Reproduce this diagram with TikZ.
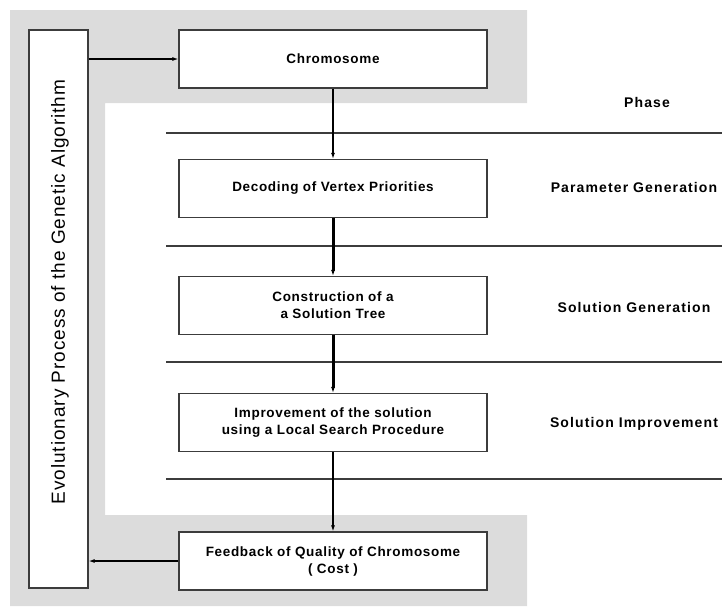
\documentclass[tikz,border=0pt]{standalone}
\usepackage{fontspec}
\setmainfont{Liberation Sans}
\newfontfamily\boxfont[LetterSpace=5]{Liberation Sans}
\newfontfamily\phasefont[LetterSpace=8]{Liberation Sans}
\newfontfamily\sidefont[LetterSpace=5]{Liberation Sans}
\usetikzlibrary{arrows.meta}

\definecolor{bandgray}{RGB}{220,220,220}
\definecolor{edgegray}{RGB}{60,60,60}

\tikzset{
    stepbox/.style={draw=edgegray,line width=1.2pt,fill=white,minimum width=308pt,minimum height=58pt,align=center,font=\boxfont\fontsize{13.5}{17}\selectfont\bfseries},
    phaselbl/.style={font=\phasefont\fontsize{14}{16}\selectfont\bfseries},
    flow/.style={-{Latex[length=6pt,width=4pt]},line width=#1},
    flow/.default=1.4pt
}

\begin{document}
\begin{tikzpicture}[x=1pt,y=-1pt]
        \useasboundingbox (0,0) rectangle (722,606);
        % gray frame
        \fill[bandgray] (10,10) -- (527,10) -- (527,103) -- (105,103) -- (105,515) -- (527,515) -- (527,606) -- (10,606) -- cycle;
        % phase rows
        \foreach \y in {133,246,362,479}
            \draw[edgegray,line width=1.2pt] (166,\y) -- (722,\y);
        \node[draw=edgegray,line width=1.2pt,fill=white,minimum width=59pt,minimum height=558pt] (evol) at (58.5,309) {};
        \node[rotate=90,font=\sidefont\fontsize{19}{22}\selectfont] (evoltxt) at (60,292) {Evolutionary Process of the Genetic Algorithm};
        \node[stepbox] (chrom) at (333,59) {Chromosome};
        \node[stepbox] (decod) at (333,188.5) {Decoding of Vertex Priorities};
        \node[stepbox] (constr) at (333,305.5) {Construction of a\\ a Solution Tree};
        \node[stepbox] (improv) at (333,422.5) {Improvement of the solution\\ using a Local Search Procedure};
        \node[stepbox] (feedb) at (333,561) {Feedback of Quality of Chromosome\\ ( Cost )};
        \node[phaselbl] (phase) at (647,102) {Phase};
        \node[phaselbl] (pgen) at (634,187) {Parameter Generation};
        \node[phaselbl] (sgen) at (634,307) {Solution Generation};
        \node[phaselbl] (simp) at (634,424) {Solution Improvement};
        % arrows
        \draw[flow=2.4pt] (evol.east |- chrom.west) -- (chrom.west);
        \draw[flow] (chrom) -- (decod);
        \draw[flow=3pt] (decod) -- (constr);
        \draw[flow=3pt] (constr) -- (improv);
        \draw[flow=2pt] (improv) -- (feedb);
        \draw[flow=2.4pt] (feedb.west) -- (evol.east |- feedb.west);
    \end{tikzpicture}
\end{document}
